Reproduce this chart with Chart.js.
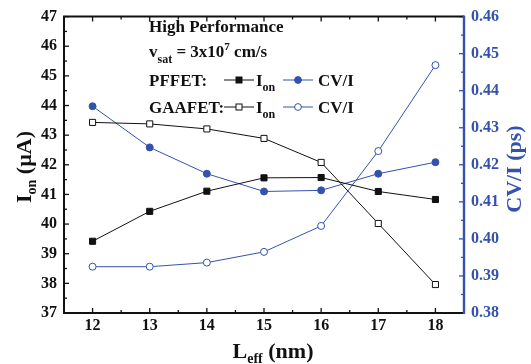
<!DOCTYPE html>
<html>
<head>
<meta charset="utf-8">
<script src="https://cdn.jsdelivr.net/npm/chart.js@4/dist/chart.umd.min.js"></script>
<style>
html,body{margin:0;padding:0;background:#fff;}
#wrap{width:531px;height:364px;}
</style>
</head>
<body>
<div id="wrap"><canvas id="c" width="531" height="364"></canvas></div>
<script>
const categories = [12, 13, 14, 15, 16, 17, 18];
const pffetIon  = [39.42, 40.43, 41.11, 41.56, 41.57, 41.10, 40.83];
const gaafetIon = [43.43, 43.38, 43.21, 42.89, 42.08, 40.02, 37.96];
const pffetCV   = [0.4358, 0.4247, 0.4176, 0.4128, 0.4131, 0.4176, 0.4207];
const gaafetCV  = [0.3925, 0.3925, 0.3936, 0.3965, 0.4035, 0.4237, 0.4469];
const xTicks  = [12, 13, 14, 15, 16, 17, 18];
const yTicks  = [37, 38, 39, 40, 41, 42, 43, 44, 45, 46, 47];
const y1Ticks = [0.38, 0.39, 0.40, 0.41, 0.42, 0.43, 0.44, 0.45, 0.46];

const BLACK = '#111111';
const BLUE = '#3452ad';
const FONT = '"Liberation Serif", "Times New Roman", serif';

function pts(arr){ return categories.map((c,i)=>({x:c, y:arr[i]})); }

const framePlugin = {
  id: 'frame',
  afterDraw(chart){
    const {ctx, chartArea:a, scales} = chart;
    const x = scales.x, y = scales.y, y1 = scales.y1;
    ctx.save();
    ctx.lineWidth = 1.3;
    ctx.strokeStyle = BLACK;
    const maj = 5, mnr = 3;
    function xt(v, len){
      const p = x.getPixelForValue(v);
      ctx.beginPath();
      ctx.moveTo(p, a.bottom); ctx.lineTo(p, a.bottom - len);
      ctx.moveTo(p, a.top); ctx.lineTo(p, a.top + len);
      ctx.stroke();
    }
    xTicks.forEach(v=>xt(v, maj));
    for(let i=0;i<xTicks.length-1;i++) xt((xTicks[i]+xTicks[i+1])/2, mnr);
    xt(xTicks[0] - 0.5, mnr); xt(xTicks[xTicks.length-1] + 0.5, mnr);
    function yt(v, len){
      const p = y.getPixelForValue(v);
      ctx.beginPath(); ctx.moveTo(a.left, p); ctx.lineTo(a.left + len, p); ctx.stroke();
    }
    yTicks.forEach(v=>yt(v, maj));
    for(let i=0;i<yTicks.length-1;i++) yt((yTicks[i]+yTicks[i+1])/2, mnr);
    ctx.strokeStyle = BLUE;
    function y1t(v, len){
      const p = y1.getPixelForValue(v);
      ctx.beginPath(); ctx.moveTo(a.right, p); ctx.lineTo(a.right - len, p); ctx.stroke();
    }
    y1Ticks.forEach(v=>y1t(v, maj));
    for(let i=0;i<y1Ticks.length-1;i++) y1t((y1Ticks[i]+y1Ticks[i+1])/2, mnr);

    ctx.lineWidth = 2;
    ctx.strokeStyle = BLACK;
    ctx.beginPath();
    ctx.moveTo(a.right, a.top); ctx.lineTo(a.left, a.top); ctx.lineTo(a.left, a.bottom); ctx.lineTo(a.right, a.bottom);
    ctx.stroke();
    ctx.strokeStyle = BLUE;
    ctx.lineWidth = 2.4;
    ctx.beginPath(); ctx.moveTo(a.right, a.top - 1); ctx.lineTo(a.right, a.bottom + 1); ctx.stroke();

    function runs(parts){
      let w = 0;
      parts.forEach(p=>{ ctx.font = 'bold ' + p[1] + 'px ' + FONT; p.w = ctx.measureText(p[0]).width; w += p.w; });
      return w;
    }
    function drawRuns(parts, x0, base){
      let cx = x0;
      parts.forEach(p=>{ ctx.font = 'bold ' + p[1] + 'px ' + FONT; ctx.fillText(p[0], cx, base + p[2]); cx += p.w; });
    }
    ctx.textAlign = 'left';
    ctx.textBaseline = 'alphabetic';
    ctx.fillStyle = BLACK;
    let parts = [['L',22,0],['eff',14,5],[' (nm)',22,0]];
    let w = runs(parts);
    drawRuns(parts, 273 - w/2, 358);
    ctx.save();
    ctx.translate(31, 167); ctx.rotate(-Math.PI/2);
    parts = [['I',22,0],['on',14,5],[' (\u00b5A)',22,0]];
    w = runs(parts);
    drawRuns(parts, -w/2, 0);
    ctx.restore();
    ctx.save();
    ctx.fillStyle = BLUE;
    ctx.translate(521, 169); ctx.rotate(-Math.PI/2);
    parts = [['CV/I (ps)',22,0]];
    w = runs(parts);
    drawRuns(parts, -w/2, 0);
    ctx.restore();

    ctx.fillStyle = BLACK;
    const lx = 149;
    parts = [['High Performance',17,0]]; runs(parts); drawRuns(parts, lx, 32);
    parts = [['v',17,0],['sat',12,6],[' = 3x10',17,0],['7',11,-7],[' cm/s',17,0]];
    runs(parts); drawRuns(parts, lx, 57);
    parts = [['PFFET:',17,0]]; runs(parts); drawRuns(parts, lx, 86);
    parts = [['GAAFET:',17,0]]; runs(parts); drawRuns(parts, lx, 113);

    function legLine(x0, x1, yy, color){
      ctx.strokeStyle = color; ctx.lineWidth = 1;
      ctx.beginPath(); ctx.moveTo(x0, yy); ctx.lineTo(x1, yy); ctx.stroke();
    }
    function sq(cx, cy, filled){
      ctx.lineWidth = 1; ctx.strokeStyle = BLACK;
      ctx.fillStyle = filled ? BLACK : '#fff';
      ctx.fillRect(cx-3, cy-3, 6, 6); ctx.strokeRect(cx-3, cy-3, 6, 6);
    }
    function circ(cx, cy, filled){
      ctx.lineWidth = 1; ctx.strokeStyle = BLUE;
      ctx.fillStyle = filled ? BLUE : '#fff';
      ctx.beginPath(); ctx.arc(cx, cy, 3.4, 0, Math.PI*2); ctx.fill(); ctx.stroke();
    }
    const rows = [[80, 86, true], [107, 113, false]];
    rows.forEach(r=>{
      const ly = r[0], base = r[1], f = r[2];
      legLine(224, 254, ly, BLACK); sq(239, ly, f);
      ctx.fillStyle = BLACK;
      parts = [['I',17,0],['on',12,5]]; runs(parts); drawRuns(parts, 256, base);
      legLine(283, 313, ly, BLUE); circ(298, ly, f);
      ctx.fillStyle = BLACK;
      parts = [['CV/I',17,0]]; runs(parts); drawRuns(parts, 318, base);
    });
    ctx.restore();
  }
};

const tickFont = {family: FONT, size: 16, weight: 'bold'};

new Chart(document.getElementById('c'), {
  type: 'line',
  data: {
    datasets: [
      {label:'PFFET Ion', data: pts(pffetIon), yAxisID:'y', borderColor:BLACK, backgroundColor:BLACK,
       borderWidth:1, pointStyle:'rect', pointRadius:4.3, pointBorderWidth:1, pointBorderColor:BLACK, pointBackgroundColor:BLACK},
      {label:'GAAFET Ion', data: pts(gaafetIon), yAxisID:'y', borderColor:BLACK, backgroundColor:'#fff',
       borderWidth:1, pointStyle:'rect', pointRadius:4.3, pointBorderWidth:1, pointBorderColor:BLACK, pointBackgroundColor:'#fff'},
      {label:'PFFET CV/I', data: pts(pffetCV), yAxisID:'y1', borderColor:BLUE, backgroundColor:BLUE,
       borderWidth:1, pointStyle:'circle', pointRadius:3.5, pointBorderWidth:1, pointBorderColor:BLUE, pointBackgroundColor:BLUE},
      {label:'GAAFET CV/I', data: pts(gaafetCV), yAxisID:'y1', borderColor:BLUE, backgroundColor:'#fff',
       borderWidth:1, pointStyle:'circle', pointRadius:3.5, pointBorderWidth:1, pointBorderColor:BLUE, pointBackgroundColor:'#fff'}
    ]
  },
  options: {
    responsive: false,
    animation: false,
    events: [],
    layout: {padding: {left: 0, right: 0, top: 11, bottom: 0}},
    plugins: {legend: {display:false}, tooltip: {enabled:false}},
    scales: {
      x: {
        type: 'linear', min: 11.5, max: 18.5,
        afterBuildTicks: s => { s.ticks = xTicks.map(v=>({value:v})); },
        afterFit: s => { s.height = 51; },
        grid: {display:false, drawTicks:false}, border: {display:false},
        ticks: {font: tickFont, color: BLACK, padding: 3, maxRotation:0, autoSkip:false}
      },
      y: {
        position: 'left', min: 37, max: 47,
        afterBuildTicks: s => { s.ticks = yTicks.map(v=>({value:v})); },
        afterFit: s => { s.width = 64; },
        grid: {display:false, drawTicks:false}, border: {display:false},
        ticks: {font: tickFont, color: BLACK, padding: 7, autoSkip:false}
      },
      y1: {
        position: 'right', min: 0.38, max: 0.46,
        afterBuildTicks: s => { s.ticks = y1Ticks.map(v=>({value:v})); },
        afterFit: s => { s.width = 67; },
        grid: {display:false, drawTicks:false}, border: {display:false},
        ticks: {font: tickFont, color: BLUE, padding: 7, autoSkip:false, callback: v => Number(v).toFixed(2)}
      }
    }
  },
  plugins: [framePlugin]
});
</script>
</body>
</html>
